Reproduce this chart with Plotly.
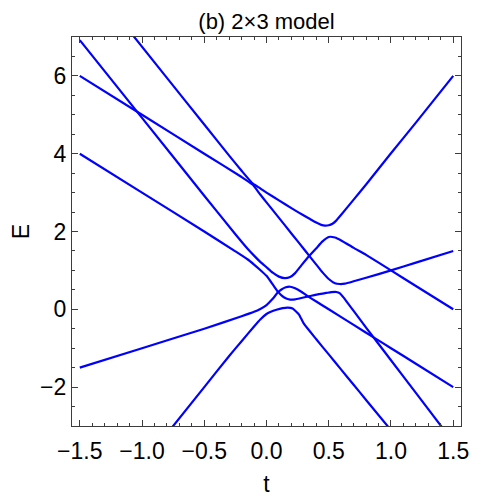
import plotly.graph_objects as go

BLUE = "rgb(0, 0, 255)"
FRAME = "rgb(60, 60, 60)"
FONT = "Liberation Sans, Arial, sans-serif"

# six eigenvalue branches E(t)
t_1 = [-1.1, -0.8, -0.5, -0.3, -0.2, -0.11, -0.05, 0.0, 0.1, 0.2, 0.3, 0.35, 0.4,
       0.44, 0.47, 0.5, 0.53, 0.56, 0.6, 0.7, 0.8, 1.0, 1.2, 1.5]
e_1 = [7.15, 5.95, 4.75, 3.95, 3.56, 3.23, 3.11, 3.0, 2.8, 2.6, 2.41, 2.32, 2.23,
       2.17, 2.15, 2.16, 2.2, 2.28, 2.43, 2.82, 3.21, 4.01, 4.8, 6.0]

t_2 = [-1.5, -1.0, -0.5, -0.25, -0.15, -0.1, -0.05, 0.0, 0.05, 0.1, 0.147, 0.19,
       0.23, 0.28, 0.342, 0.4, 0.45, 0.5, 0.55, 0.6, 0.7, 0.8, 1.0, 1.2, 1.5]
e_2 = [6.92, 4.92, 2.92, 1.93, 1.55, 1.38, 1.22, 1.08, 0.94, 0.84, 0.80, 0.83,
       0.93, 1.13, 1.37, 1.57, 1.745, 1.86, 1.845, 1.77, 1.58, 1.4, 1.0, 0.6, 0.0]

t_3 = [-1.5, -1.0, -0.5, -0.25, -0.15, -0.1, -0.05, 0.0, 0.05, 0.09, 0.12, 0.15,
       0.19, 0.23, 0.28, 0.35, 0.42, 0.48, 0.52, 0.56, 0.59, 0.62, 0.65, 0.7, 0.8,
       1.0, 1.2, 1.45]
e_3 = [4.0, 3.0, 2.0, 1.49, 1.28, 1.15, 1.01, 0.86, 0.64, 0.46, 0.36, 0.29,
       0.25, 0.255, 0.29, 0.34, 0.39, 0.42, 0.44, 0.445, 0.41, 0.30, 0.17, -0.04,
       -0.47, -1.31, -2.15, -3.2]

t_4 = [-1.5, -1.0, -0.5, -0.2, -0.1, -0.05, 0.0, 0.05, 0.09, 0.12, 0.155, 0.19,
       0.23, 0.28, 0.33, 0.4, 0.5, 0.7, 0.87, 1.0, 1.2, 1.5]
e_4 = [-1.5, -1.0, -0.5, -0.18, -0.065, 0.01, 0.11, 0.27, 0.43, 0.51, 0.565, 0.58,
       0.54, 0.45, 0.34, 0.2, 0.0, -0.4, -0.74, -1.0, -1.4, -2.0]

t_5 = [-0.76, -0.5, -0.3, -0.2, -0.1, -0.05, 0.0, 0.03, 0.08, 0.13, 0.17, 0.21,
       0.26, 0.3, 0.4, 0.5, 0.6, 0.7, 0.8, 0.98]
e_5 = [-3.04, -2.0, -1.2, -0.82, -0.44, -0.26, -0.12, -0.07, -0.01, 0.03, 0.045,
       0.02, -0.13, -0.37, -0.77, -1.16, -1.55, -1.94, -2.33, -3.03]

t_6 = [-1.5, -1.0, -0.5, -0.2, -0.11, -0.05, 0.0, 0.1, 0.2, 0.3, 0.342, 0.4, 0.45,
       0.5, 0.55, 0.59, 0.63, 0.7, 0.8, 1.0, 1.2, 1.5]
e_6 = [6.0, 5.0, 4.0, 3.4, 3.2, 2.95, 2.75, 2.35, 1.95, 1.55, 1.38, 1.15, 0.95,
       0.78, 0.67, 0.65, 0.66, 0.72, 0.81, 1.0, 1.2, 1.5]

x_ticks = [-1.5, -1.0, -0.5, 0.0, 0.5, 1.0, 1.5]
y_ticks = [-2, 0, 2, 4, 6]

branches = [(t_1, e_1), (t_2, e_2), (t_3, e_3), (t_4, e_4), (t_5, e_5), (t_6, e_6)]

fig = go.Figure()
for t, e in branches:
    fig.add_trace(
        go.Scatter(
            x=t,
            y=e,
            mode="lines",
            line=dict(color=BLUE, width=2.2, shape="spline", smoothing=0.4),
            showlegend=False,
            hoverinfo="skip",
        )
    )

axis_style = dict(
    showgrid=False,
    zeroline=False,
    showline=True,
    linecolor=FRAME,
    linewidth=1.2,
    mirror="allticks",
    ticks="inside",
    ticklen=6,
    tickwidth=1,
    tickcolor=FRAME,
    automargin=False,
    tickfont=dict(family=FONT, size=23, color="black"),
)

fig.update_xaxes(
    **axis_style,
    range=[-1.5625, 1.5625],
    tickvals=x_ticks,
    ticktext=[f"{v:.1f}".replace("-", "\u2212") for v in x_ticks],
    ticklabelstandoff=4,
    minor=dict(ticks="inside", dtick=0.1, tick0=0, ticklen=3, tickcolor=FRAME),
    title=dict(text="t", font=dict(family=FONT, size=23, color="black"), standoff=13),
)
fig.update_yaxes(
    **axis_style,
    range=[-3, 7],
    tickvals=y_ticks,
    ticktext=[str(v).replace("-", "\u2212") for v in y_ticks],
    minor=dict(ticks="inside", dtick=0.5, tick0=0, ticklen=3, tickcolor=FRAME),
    title=dict(text="E", font=dict(family=FONT, size=23, color="black"), standoff=17),
)

# the page keeps the browser's 8px body margin, so the figure is sized to fit
fig.update_layout(
    width=492,
    height=491,
    paper_bgcolor="white",
    plot_bgcolor="white",
    margin=dict(l=64, r=39, t=29, b=73, autoexpand=False),
    title=dict(
        text="(b) 2×3 model",
        x=0.5,
        xref="paper",
        xanchor="center",
        y=1 - 13 / 491,
        yref="container",
        yanchor="middle",
        automargin=False,
        font=dict(family=FONT, size=22, color="black"),
    ),
)

fig.write_html("out.html")
